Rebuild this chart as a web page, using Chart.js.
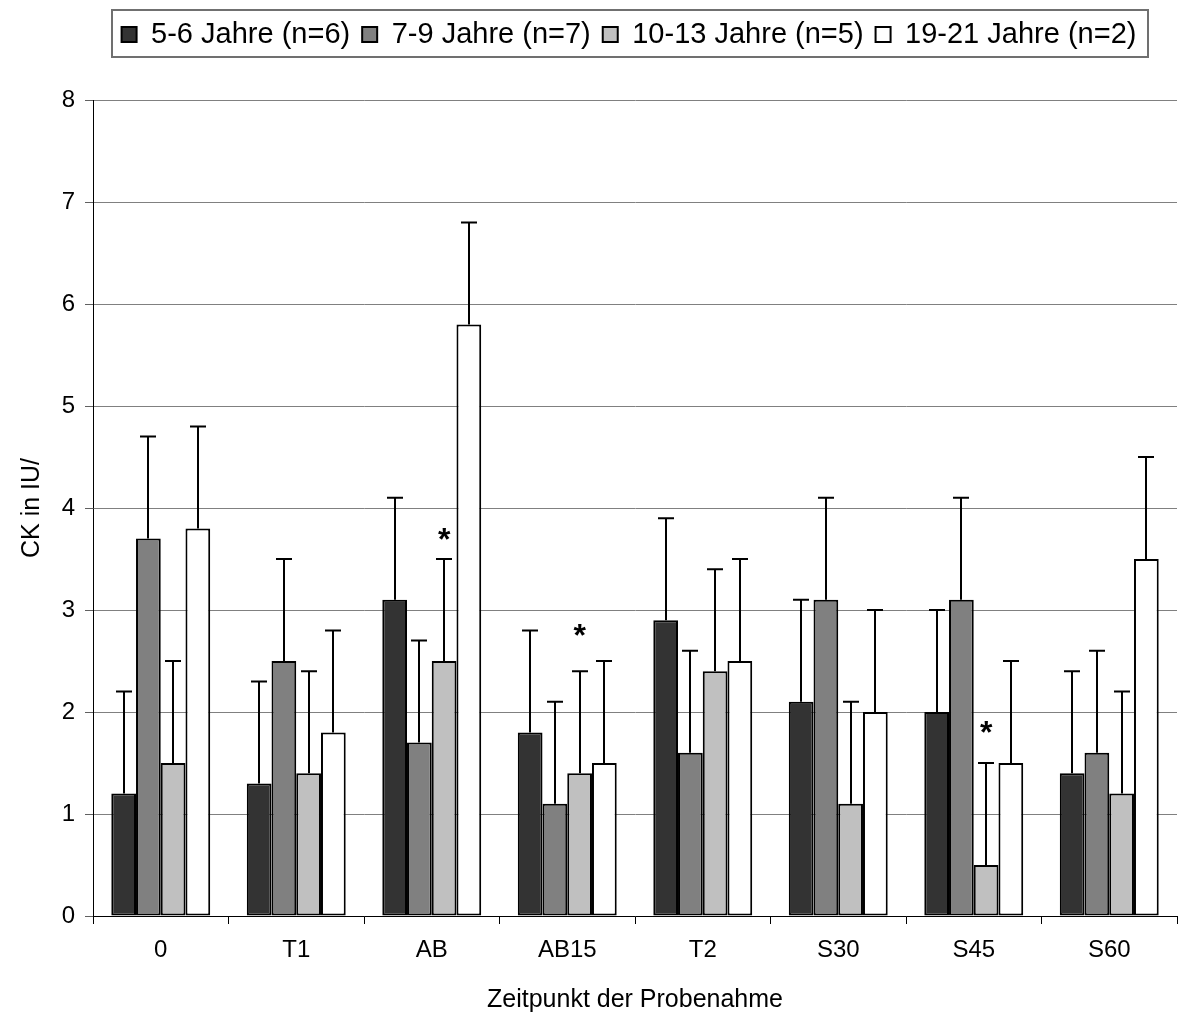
<!DOCTYPE html>
<html>
<head>
<meta charset="utf-8">
<script src="https://cdn.jsdelivr.net/npm/chart.js@4.4.1/dist/chart.umd.min.js"></script>
<style>
html, body { margin: 0; padding: 0; background: #ffffff; }
#wrap { width: 1183px; height: 1018px; }
</style>
</head>
<body>
<div id="wrap"><canvas id="c" width="1183" height="1018"></canvas></div>
<script>
// ---- data ----
const categories = ['0', 'T1', 'AB', 'AB15', 'T2', 'S30', 'S45', 'S60'];
const seriesLabels = ['5-6 Jahre (n=6)', '7-9 Jahre (n=7)', '10-13 Jahre (n=5)', '19-21 Jahre (n=2)'];
const values5to6   = [1.2, 1.3, 3.1, 1.8, 2.9, 2.1, 2.0, 1.4];
const values7to9   = [3.7, 2.5, 1.7, 1.1, 1.6, 3.1, 3.1, 1.6];
const values10to13 = [1.5, 1.4, 2.5, 1.4, 2.4, 1.1, 0.5, 1.2];
const values19to21 = [3.8, 1.8, 5.8, 1.5, 2.5, 2.0, 1.5, 3.5];
const err5to6   = [1.0, 1.0, 1.0, 1.0, 1.0, 1.0, 1.0, 1.0];
const err7to9   = [1.0, 1.0, 1.0, 1.0, 1.0, 1.0, 1.0, 1.0];
const err10to13 = [1.0, 1.0, 1.0, 1.0, 1.0, 1.0, 1.0, 1.0];
const err19to21 = [1.0, 1.0, 1.0, 1.0, 1.0, 1.0, 1.0, 1.0];
const yTickValues = [0, 1, 2, 3, 4, 5, 6, 7, 8];
// significance markers: category index, series index, y value of the asterisk
const sigCategory = [2, 3, 6];
const sigSeries   = [2, 2, 2];
const sigValue    = [3.75, 2.8, 1.85];
const yTitle = 'CK in IU/';
const xTitle = 'Zeitpunkt der Probenahme';

const seriesValues = [values5to6, values7to9, values10to13, values19to21];
const seriesErrors = [err5to6, err7to9, err10to13, err19to21];
const seriesColors = ['#333333', '#808080', '#c0c0c0', '#ffffff'];

const FONT = "'Liberation Sans', Arial, Helvetica, sans-serif";
const LEGEND_TOP = 8;

const legendPlacer = {
  id: 'legendPlacer',
  afterLayout(chart) {
    const lg = chart.legend;
    if (!lg) return;
    const pad = chart.options.plugins.legend.labels.padding;
    lg.left = chart.chartArea.left - pad;
    lg.right = chart.chartArea.right;
    const h = lg.height;
    lg.top = LEGEND_TOP;
    lg.bottom = LEGEND_TOP + h;
  },
  afterDraw(chart) {
    const lg = chart.legend;
    if (!lg || !lg.legendHitBoxes || !lg.legendHitBoxes.length) return;
    let l = Infinity, r = -Infinity, t = Infinity, b = -Infinity;
    lg.legendHitBoxes.forEach(h => {
      l = Math.min(l, h.left); r = Math.max(r, h.left + h.width);
      t = Math.min(t, h.top); b = Math.max(b, h.top + h.height);
    });
    const ctx = chart.ctx;
    ctx.save();
    ctx.strokeStyle = '#707070';
    ctx.lineWidth = 2;
    ctx.strokeRect(Math.round(l - 10), Math.round(t - 10), Math.round(r - l + 21), Math.round(b - t + 18));
    ctx.restore();
  }
};

const errorBars = {
  id: 'errorBars',
  afterDatasetsDraw(chart) {
    const ctx = chart.ctx;
    const ys = chart.scales.y;
    ctx.save();
    ctx.strokeStyle = '#000000';
    ctx.lineWidth = 2;
    seriesValues.forEach((vals, i) => {
      const meta = chart.getDatasetMeta(i);
      meta.data.forEach((bar, j) => {
        const top = ys.getPixelForValue(vals[j] + seriesErrors[i][j]);
        const x = Math.round(bar.x);
        ctx.beginPath();
        ctx.moveTo(x, bar.y);
        ctx.lineTo(x, top);
        ctx.moveTo(x - 8, top);
        ctx.lineTo(x + 8, top);
        ctx.stroke();
      });
    });
    ctx.restore();
  }
};

const asterisks = {
  id: 'asterisks',
  afterDatasetsDraw(chart) {
    const ctx = chart.ctx;
    const ys = chart.scales.y;
    ctx.save();
    ctx.fillStyle = '#000000';
    ctx.font = 'bold 32px ' + FONT;
    ctx.textAlign = 'center';
    ctx.textBaseline = 'alphabetic';
    const m = ctx.measureText('*');
    const mid = (m.actualBoundingBoxAscent - m.actualBoundingBoxDescent) / 2;
    sigCategory.forEach((c, k) => {
      const bar = chart.getDatasetMeta(sigSeries[k]).data[c];
      const y = ys.getPixelForValue(sigValue[k]);
      ctx.fillText('*', bar.x, y + mid);
    });
    ctx.restore();
  }
};

new Chart(document.getElementById('c'), {
  type: 'bar',
  data: {
    labels: categories,
    datasets: seriesLabels.map((lab, i) => ({
      label: lab,
      data: seriesValues[i],
      backgroundColor: seriesColors[i],
      borderColor: '#000000',
      borderWidth: 2,
      borderSkipped: false,
      categoryPercentage: 0.73,
      barPercentage: 1.0
    }))
  },
  options: {
    responsive: false,
    devicePixelRatio: 1,
    animation: false,
    layout: { padding: { top: 8, left: 0, right: 0, bottom: 0 } },
    plugins: {
      legend: {
        display: true,
        position: 'top',
        align: 'center',
        labels: {
          color: '#000000',
          font: { family: FONT, size: 29 },
          boxWidth: 15,
          boxHeight: 15,
          padding: 12
        }
      },
      tooltip: { enabled: false },
      title: { display: false }
    },
    scales: {
      x: {
        offset: true,
        grid: {
          display: true,
          offset: true,
          drawOnChartArea: false,
          drawTicks: true,
          tickLength: 8,
          color: '#000000',
          lineWidth: 1
        },
        border: { display: true, color: '#000000', width: 1 },
        ticks: {
          color: '#000000',
          font: { family: FONT, size: 24 },
          padding: 12,
          maxRotation: 0,
          autoSkip: false
        },
        title: {
          display: true,
          text: xTitle,
          color: '#000000',
          font: { family: FONT, size: 25 },
          padding: { top: 4, bottom: 3 }
        },
        afterFit(scale) {
          scale.height = 102;
          scale.paddingRight = 6;
        }
      },
      y: {
        min: 0,
        max: 8,
        afterBuildTicks(scale) {
          scale.ticks = yTickValues.map(v => ({ value: v }));
        },
        grid: {
          display: true,
          color: '#808080',
          lineWidth: 1,
          drawTicks: true,
          tickLength: 8,
          tickColor: '#606060'
        },
        border: { display: true, color: '#000000', width: 1 },
        ticks: {
          color: '#000000',
          font: { family: FONT, size: 24 },
          padding: 10
        },
        title: {
          display: true,
          text: yTitle,
          color: '#000000',
          font: { family: FONT, size: 25 },
          padding: { top: 17, bottom: 0 }
        },
        afterFit(scale) {
          scale.width = 93;
          scale.paddingTop = 100;
        }
      }
    }
  },
  plugins: [legendPlacer, errorBars, asterisks]
});
</script>
</body>
</html>
